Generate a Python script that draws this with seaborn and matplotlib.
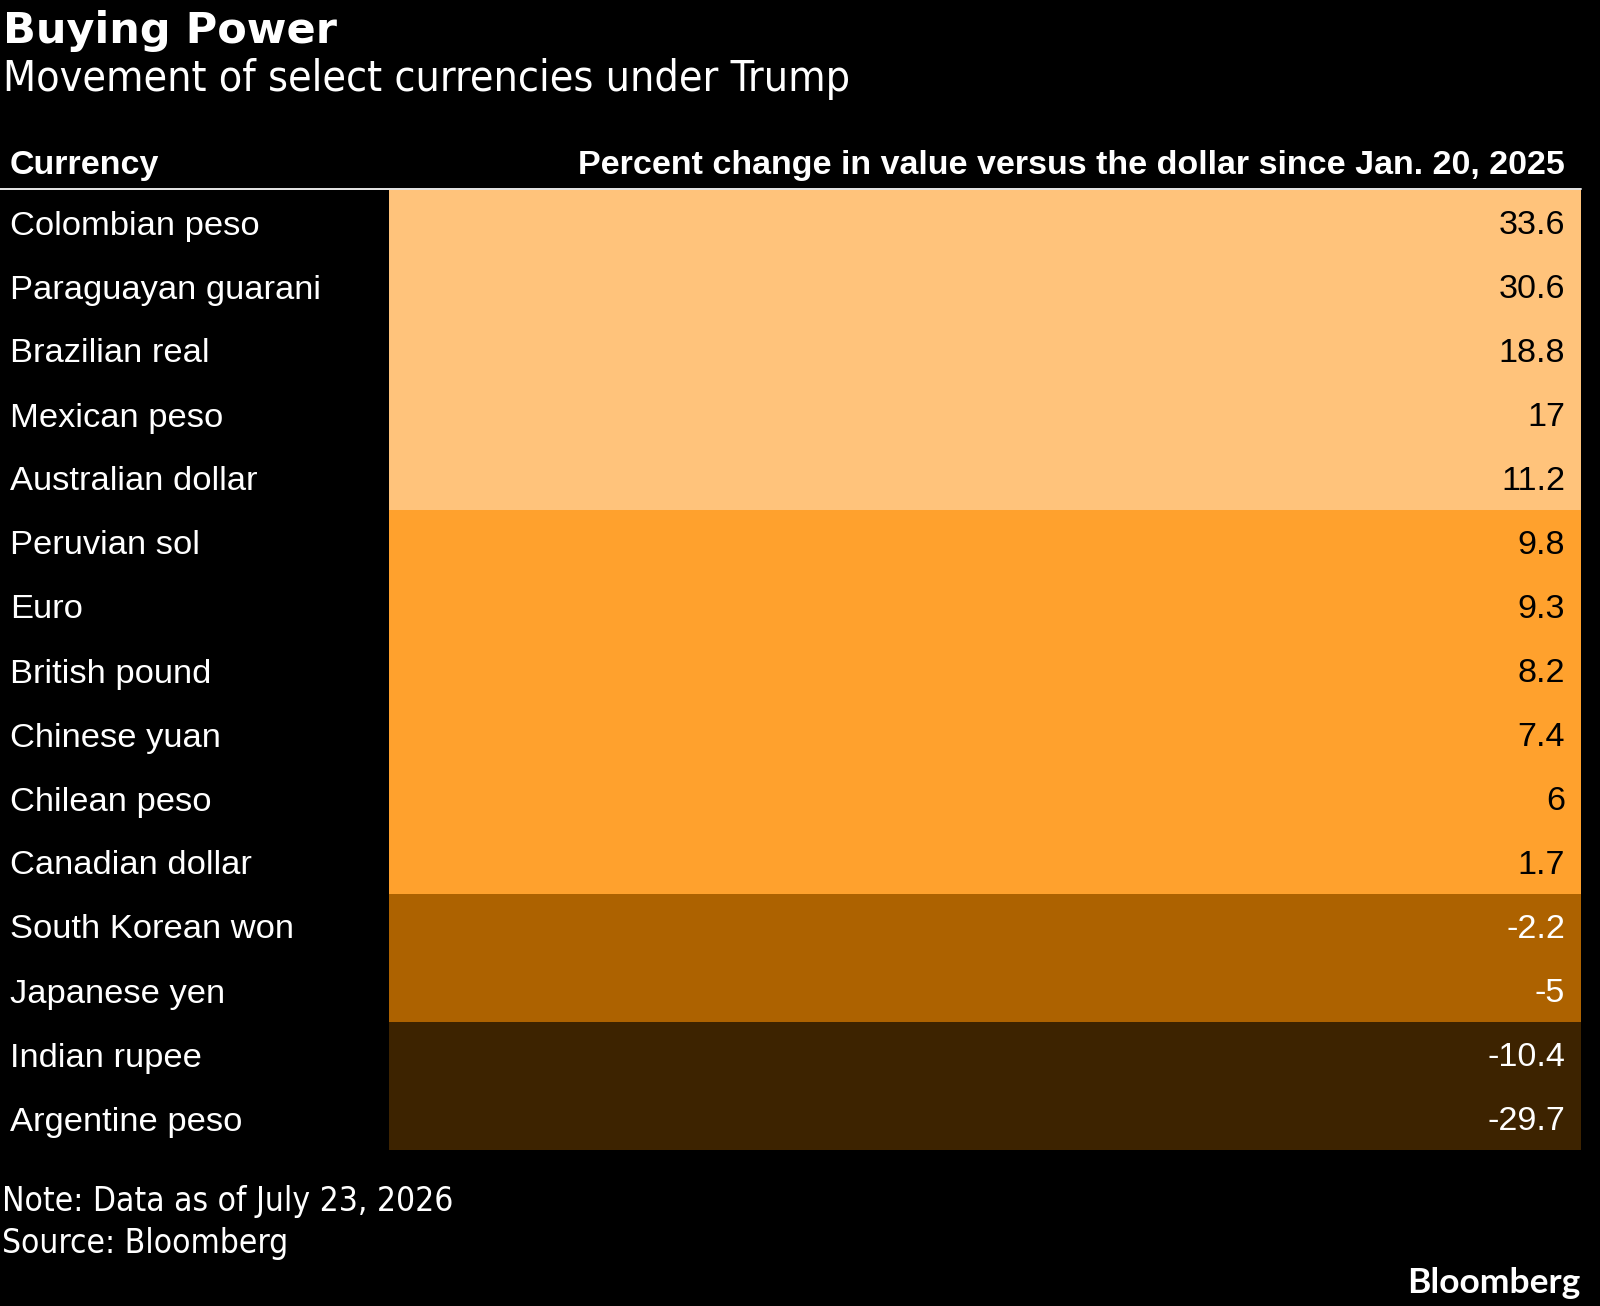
import numpy as np
import pandas as pd
import matplotlib
matplotlib.use("Agg")
import matplotlib.pyplot as plt
from matplotlib.colors import ListedColormap
from matplotlib import font_manager as fm
from matplotlib.lines import Line2D
import matplotlib.transforms as mtransforms
import seaborn as sns

# ---------------- data ----------------
currencies = ["Colombian peso", "Paraguayan guarani", "Brazilian real", "Mexican peso",
              "Australian dollar", "Peruvian sol", "Euro", "British pound", "Chinese yuan",
              "Chilean peso", "Canadian dollar", "South Korean won", "Japanese yen",
              "Indian rupee", "Argentine peso"]
pct_change = [33.6, 30.6, 18.8, 17, 11.2, 9.8, 9.3, 8.2, 7.4, 6, 1.7, -2.2, -5, -10.4, -29.7]
value_labels = ["33.6", "30.6", "18.8", "17", "11.2", "9.8", "9.3", "8.2", "7.4", "6",
                "1.7", "-2.2", "-5", "-10.4", "-29.7"]
bin_edges = [-10, 0, 10]
bin_colors = ["#3d2300", "#ad6200", "#ffa12d", "#ffc37b"]
bin_text_colors = ["white", "white", "black", "black"]

title = "Buying Power"
subtitle = "Movement of select currencies under Trump"
col_header_left = "Currency"
col_header_right = "Percent change in value versus the dollar since Jan. 20, 2025"
note = "Note: Data as of July 23, 2026"
source = "Source: Bloomberg"
brand = "Bloomberg"

# ---------------- style ----------------
sns.set_style("dark", {"axes.facecolor": "black", "figure.facecolor": "black"})
plt.rcParams["font.family"] = ["Liberation Sans", "DejaVu Sans"]
BODY = ["Liberation Sans", "DejaVu Sans"]

has_condensed = any(
    (f.name == "DejaVu Sans") and ("condensed" in str(f.stretch).lower() or "Condensed" in f.fname)
    for f in fm.fontManager.ttflist)
if has_condensed:
    sub_kw = dict(family="DejaVu Sans", stretch="condensed")
    sub_size, foot_size = 30.8, 24.0
else:
    sub_kw = dict(family="DejaVu Sans")
    sub_size, foot_size = 27.6, 21.9

W, H, DPI = 1600, 1306, 100
fig = plt.figure(figsize=(W / DPI, H / DPI), dpi=DPI, facecolor="black")

def fx(px):
    return px / W

def fy(py):
    return 1 - py / H

# table area
tbl_left, tbl_right, tbl_top, tbl_bottom = 389, 1581, 190, 1150
ax = fig.add_axes([fx(tbl_left), fy(tbl_bottom), fx(tbl_right - tbl_left),
                   (tbl_bottom - tbl_top) / H])

codes = np.digitize(pct_change, bin_edges)
df = pd.DataFrame({"code": codes}, index=currencies)
sns.heatmap(df, ax=ax, cmap=ListedColormap(bin_colors), vmin=-0.5, vmax=len(bin_colors) - 0.5,
            cbar=False, xticklabels=False, yticklabels=False, linewidths=0)
ax.set_ylabel("")
ax.set_xlabel("")
ax.tick_params(length=0)
for s in ax.spines.values():
    s.set_visible(False)

row_px = (tbl_bottom - tbl_top) / len(currencies)
base_off = 12.5 / row_px  # baseline sits a little below the row centre

# row labels (left margin) and values (right-aligned in the coloured column)
lab_trans = mtransforms.blended_transform_factory(fig.transFigure, ax.transData)
val_trans = mtransforms.blended_transform_factory(ax.transAxes, ax.transData)
xval = (1565 - tbl_left) / (tbl_right - tbl_left)
for i, (name, lbl, c) in enumerate(zip(currencies, value_labels, codes)):
    ax.text(fx(10), i + 0.5 + base_off, name, transform=lab_trans, ha="left", va="baseline",
            fontsize=24.8, color="white", family=BODY, clip_on=False)
    ax.text(xval, i + 0.5 + base_off, lbl, transform=val_trans, ha="right", va="baseline",
            fontsize=24.6, color=bin_text_colors[c], family=BODY)

# titles
fig.text(fx(3), fy(43), title, ha="left", va="baseline", fontsize=31, fontweight="bold",
         color="white", family="DejaVu Sans")
fig.text(fx(3), fy(91), subtitle, ha="left", va="baseline", fontsize=sub_size,
         color="white", **sub_kw)

# column headers
fig.text(fx(10), fy(174), col_header_left, ha="left", va="baseline", fontsize=24.5,
         fontweight="bold", color="white", family=BODY)
fig.text(fx(1565), fy(174), col_header_right, ha="right", va="baseline", fontsize=24.5,
         fontweight="bold", color="white", family=BODY)
fig.add_artist(Line2D([0, fx(tbl_right)], [fy(189), fy(189)], transform=fig.transFigure,
                      color="#e8e8e8", linewidth=1.4))

# footer
fig.text(fx(2), fy(1211), note, ha="left", va="baseline", fontsize=foot_size,
         color="white", **sub_kw)
fig.text(fx(2), fy(1253), source, ha="left", va="baseline", fontsize=foot_size,
         color="white", **sub_kw)
fig.text(fx(1580), fy(1293), brand, ha="right", va="baseline", fontsize=25.5,
         fontweight="bold", color="white", family=["Lato", "DejaVu Sans"])

fig.savefig("out.png", dpi=DPI, facecolor="black")
